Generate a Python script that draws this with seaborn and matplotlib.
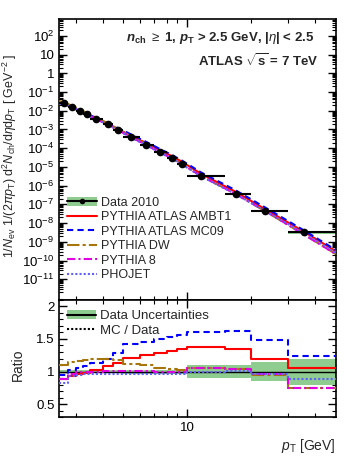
import numpy as np
import pandas as pd
import seaborn as sns
import matplotlib.pyplot as plt
import matplotlib.ticker as mticker
import matplotlib.patches as mpatches
from matplotlib.lines import Line2D

# pT bins (GeV) and mean pT of each bin
edges = [2.5, 2.75, 3.0, 3.25, 3.5, 4.0, 4.5, 5.0, 6.0, 7.0, 8.0, 9.0, 10.0, 15.0, 20.0, 30.0, 50.0]
pt_mean = [2.62, 2.87, 3.12, 3.37, 3.73, 4.22, 4.72, 5.45, 6.42, 7.45, 8.45, 9.45, 11.6, 16.9, 23.3, 35.6]

# data 2010 spectrum and relative uncertainty
data = [2.66e-2, 1.62e-2, 1.0e-2, 6.5e-3, 3.6e-3, 1.86e-3, 9.3e-4, 3.8e-4,
        1.48e-4, 6.0e-5, 2.9e-5, 1.4e-5, 3.2e-6, 3.5e-7, 4.6e-8, 3.2e-9]
data_unc = [0.02, 0.02, 0.02, 0.02, 0.02, 0.02, 0.02, 0.03,
            0.03, 0.03, 0.03, 0.04, 0.10, 0.10, 0.14, 0.20]
spec_lo = 3.0e-2   # spectrum at pT = 2.5
spec_hi = 3.0e-10  # spectrum at pT = 50

# MC / data ratios per bin
ambt1 = [0.89, 0.93, 0.96, 0.98, 1.03, 1.08, 1.13, 1.21, 1.26, 1.29, 1.32, 1.35, 1.37, 1.34, 1.20, 1.06]
mc09 = [0.95, 1.02, 1.05, 1.08, 1.13, 1.20, 1.29, 1.43, 1.46, 1.50, 1.53, 1.56, 1.61, 1.62, 1.48, 1.24]
dw = [1.10, 1.15, 1.16, 1.17, 1.19, 1.19, 1.17, 1.12, 1.10, 1.06, 1.04, 1.03, 1.05, 1.04, 0.94, 0.75]
py8 = [0.88, 0.96, 0.99, 1.00, 1.00, 1.01, 1.01, 1.01, 1.01, 1.00, 1.00, 1.00, 1.05, 1.04, 0.96, 0.75]
phojet = [0.82, 0.93, 0.95, 0.96, 0.97, 0.97, 0.97, 0.97, 0.97, 0.97, 0.97, 0.97, 1.00, 1.01, 0.97, 0.88]

models = [
    ('PYTHIA ATLAS AMBT1', ambt1, '#ff0000', '-'),
    ('PYTHIA ATLAS MC09', mc09, '#0000ff', (0, (3, 2))),
    ('PYTHIA DW', dw, '#a6760d', (0, (6, 1.5, 1.5, 1.5))),
    ('PYTHIA 8', py8, '#e000e0', (0, (4, 1.5, 1, 1.5))),
    ('PHOJET', phojet, '#6060ff', (0, (1, 1))),
]

sns.set_theme(style='ticks')
plt.rcParams['font.family'] = ['Liberation Sans', 'DejaVu Sans']
plt.rcParams['mathtext.fontset'] = 'custom'
plt.rcParams['mathtext.rm'] = 'Liberation Sans'
plt.rcParams['mathtext.it'] = 'Liberation Sans:italic'
plt.rcParams['mathtext.bf'] = 'Liberation Sans:bold'
plt.rcParams['mathtext.bfit'] = 'Liberation Sans:italic:bold'

green = '#8fcc8f'
edges = np.array(edges)
pt_mean = np.array(pt_mean)
data = np.array(data)
data_unc = np.array(data_unc)

fig = plt.figure(figsize=(3.57, 4.62), dpi=100)
ax1 = fig.add_axes([0.166, 0.351, 0.774, 0.607])
ax2 = fig.add_axes([0.166, 0.097, 0.774, 0.254])

# ---- top panel: spectrum
for lo, hi, v, u in zip(edges[:-1], edges[1:], data, data_unc):
    ax1.add_patch(mpatches.Rectangle((lo, v * (1 - u)), hi - lo, 2 * u * v,
                                     color=green, lw=0, zorder=2))

xs = np.concatenate([[edges[0]], pt_mean, [edges[-1]]])
for name, r, c, ls in models:
    r = np.array(r)
    ys = np.concatenate([[spec_lo * r[0]], data * r, [spec_hi * r[-1]]])
    df = pd.DataFrame({'pT': xs, 'y': ys})
    sns.lineplot(data=df, x='pT', y='y', ax=ax1, color=c, linestyle=ls,
                 lw=1.5, errorbar=None, zorder=3)

xerr = [pt_mean - edges[:-1], edges[1:] - pt_mean]
ax1.errorbar(pt_mean, data, xerr=xerr, fmt='o', color='black', ms=4.5,
             elinewidth=1.5, capsize=0, zorder=4)

ax1.set_xscale('log')
ax1.set_yscale('log')
ax1.set_xlim(2.5, 50)
ax1.set_ylim(10 ** -12.1, 10 ** 2.88)
ax1.set_xlabel('')
ax1.set_ylabel(r'$1/N_{\rm ev}\ 1/(2\pi p_{\rm T})\ {\rm d}^2N_{\rm ch}/{\rm d}\eta{\rm d}p_{\rm T}$ [ GeV$^{-2}$ ]',
               fontsize=9)
ax1.yaxis.set_label_coords(-0.145, 0.515)


def logfmt(v, pos):
    n = int(round(np.log10(v)))
    if n == 0:
        return '1'
    if n == 1:
        return '10'
    return r'$10^{%d}$' % n


ax1.yaxis.set_major_locator(mticker.FixedLocator([10.0 ** k for k in range(-11, 3)]))
ax1.yaxis.set_major_formatter(mticker.FuncFormatter(logfmt))
ax1.yaxis.set_minor_locator(mticker.LogLocator(base=10, subs=np.arange(2, 10), numticks=300))
ax1.yaxis.set_minor_formatter(mticker.NullFormatter())
ax1.xaxis.set_major_locator(mticker.FixedLocator([10]))
ax1.xaxis.set_minor_locator(mticker.FixedLocator([3, 4, 5, 6, 7, 8, 9, 20, 30, 40]))
ax1.xaxis.set_major_formatter(mticker.NullFormatter())
ax1.xaxis.set_minor_formatter(mticker.NullFormatter())

ax1.text(0.925, 0.935, r'$\mathbfit{n}_{\mathbf{ch}}$ $\geq$ 1, $\mathbfit{p}_{\mathbf{T}}$ > 2.5 GeV, |$\eta$| < 2.5',
         transform=ax1.transAxes, ha='right', va='center', fontsize=9.5, fontweight='bold')
ax1.text(0.94, 0.855, r'ATLAS $\sqrt{\mathbf{s}}$ = 7 TeV',
         transform=ax1.transAxes, ha='right', va='center', fontsize=9.5, fontweight='bold')

h_data = (mpatches.Patch(color=green, lw=0),
          Line2D([], [], color='black', lw=1.5, marker='o', ms=3))
handles = [h_data] + [Line2D([], [], color=c, ls=ls, lw=1.5) for _, _, c, ls in models]
labels = ['Data 2010'] + [m[0] for m in models]
ax1.legend(handles, labels, loc='upper left', bbox_to_anchor=(0.005, 0.39), frameon=False,
           fontsize=9, handlelength=2.4, handletextpad=0.3, labelspacing=0.2, borderpad=0)

# ---- ratio panel
for lo, hi, u in zip(edges[:-1], edges[1:], data_unc):
    ax2.add_patch(mpatches.Rectangle((lo, 1 - u), hi - lo, 2 * u, color=green, lw=0, zorder=1))
ax2.axhline(1, color='black', lw=1, zorder=2)

for name, r, c, ls in models:
    df = pd.DataFrame({'pT': edges, 'ratio': list(r) + [r[-1]]})
    sns.lineplot(data=df, x='pT', y='ratio', ax=ax2, color=c, linestyle=ls,
                 lw=1.5, errorbar=None, drawstyle='steps-post', zorder=3)

ax2.set_xscale('log')
ax2.set_xlim(2.5, 50)
ax2.set_ylim(0.3, 2.1)
ax2.xaxis.set_major_locator(mticker.FixedLocator([10]))
ax2.xaxis.set_major_formatter(mticker.FixedFormatter(['10']))
ax2.xaxis.set_minor_locator(mticker.FixedLocator([3, 4, 5, 6, 7, 8, 9, 20, 30, 40]))
ax2.xaxis.set_minor_formatter(mticker.NullFormatter())
ax2.yaxis.set_major_locator(mticker.FixedLocator([0.5, 1, 1.5, 2]))
ax2.yaxis.set_major_formatter(mticker.FixedFormatter(['0.5', '1', '1.5', '2']))
ax2.yaxis.set_minor_locator(mticker.MultipleLocator(0.1))
ax2.set_ylabel('Ratio', fontsize=10)
ax2.yaxis.set_label_coords(-0.125, 0.45)
ax2.set_xlabel(r'$p_{\rm T}$ [GeV]', fontsize=10)
ax2.xaxis.set_label_coords(1.0, -0.17)
ax2.xaxis.label.set_ha('right')

h_unc = (mpatches.Patch(color=green, lw=0), Line2D([], [], color='black', lw=1.5))
h_mc = Line2D([], [], color='black', ls=(0, (1, 1)), lw=1.5)
ax2.legend([h_unc, h_mc], ['Data Uncertainties', 'MC / Data'], loc='upper left',
           bbox_to_anchor=(0.005, 0.97), frameon=False, fontsize=9.5,
           handlelength=2.2, handletextpad=0.3, labelspacing=0.2, borderpad=0)

for ax in (ax1, ax2):
    ax.tick_params(which='both', direction='in', top=True, right=True, colors='black')
    ax.tick_params(which='major', length=6, width=1, labelsize=9.5)
    ax.tick_params(which='minor', length=3, width=0.8)
    for s in ax.spines.values():
        s.set_linewidth(1.2)
        s.set_color('black')

fig.savefig('out.png', dpi=100)
